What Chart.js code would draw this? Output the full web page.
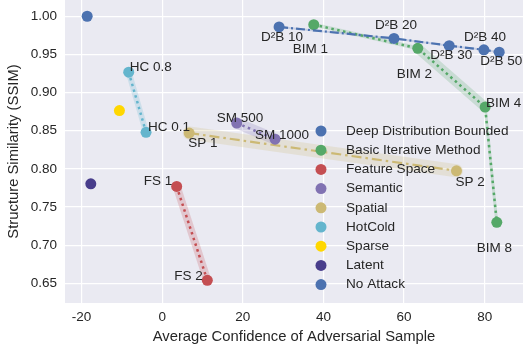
<!DOCTYPE html>
<html>
<head>
<meta charset="utf-8">
<script src="https://cdn.jsdelivr.net/npm/chart.js@4/dist/chart.umd.min.js"></script>
<style>
html,body{margin:0;padding:0;background:#fff;}
#wrap{width:523px;height:351px;position:relative;}
</style>
</head>
<body>
<div id="wrap"><canvas id="c"></canvas></div>
<script>
// ---- data ----
const seriesNames = ["Deep Distribution Bounded","Basic Iterative Method","Feature Space","Semantic","Spatial","HotCold","Sparse","Latent","No Attack"];
const d2bX = [29.0, 57.5, 71.2, 79.8, 83.6];
const d2bY = [0.986, 0.971, 0.9615, 0.956, 0.953];
const d2bLabels = ["D²B 10","D²B 20","D²B 30","D²B 40","D²B 50"];
const bimX = [37.6, 63.4, 80.1, 83.0];
const bimY = [0.989, 0.958, 0.881, 0.730];
const bimLabels = ["BIM 1","BIM 2","BIM 4","BIM 8"];
const fsX = [3.6, 11.2];
const fsY = [0.777, 0.654];
const fsLabels = ["FS 1","FS 2"];
const smX = [18.5, 28.0];
const smY = [0.860, 0.839];
const smLabels = ["SM 500","SM 1000"];
const spX = [6.7, 73.0];
const spY = [0.847, 0.7975];
const spLabels = ["SP 1","SP 2"];
const hcX = [-8.3, -4.0];
const hcY = [0.9267, 0.848];
const hcLabels = ["HC 0.8","HC 0.1"];
const sparseX = [-10.6];
const sparseY = [0.8765];
const latentX = [-17.7];
const latentY = [0.7805];
const noAttackX = [-18.6];
const noAttackY = [1.00];
const xTicks = [-20, 0, 20, 40, 60, 80];
const yTicks = [0.65, 0.70, 0.75, 0.80, 0.85, 0.90, 0.95, 1.00];

// ---- styles ----
const colors = ["#4c72b0","#55a868","#c44e52","#8172b2","#ccb974","#64b5cd","#ffd700","#483d8b","#4c72b0"];
const FONT = "'Liberation Sans', Arial, sans-serif";
const TXT = "#262626";

function pts(xs, ys){ return xs.map((x,i)=>({x:x, y:ys[i]})); }
function rgba(hex,a){const n=parseInt(hex.slice(1),16);return `rgba(${n>>16&255},${n>>8&255},${n&255},${a})`;}

const lineSeries = [
  {x:d2bX,y:d2bY,c:0,dash:[9,3,2,3],w:2.2,band:[2,2,2,2],labels:d2bLabels,
   off:[[-18,10],[-19,-13],[-19,9.5],[-20,-13],[-19,9.5]]},
  {x:bimX,y:bimY,c:1,dash:[2.5,3.5],w:2.5,band:[4,10,3],labels:bimLabels,
   off:[[-21,25],[-21,26],[1,-4],[-20,26]]},
  {x:fsX,y:fsY,c:2,dash:[2.5,3.5],w:2.5,band:[8],labels:fsLabels,off:[[-33,-5],[-33,-4]]},
  {x:smX,y:smY,c:3,dash:[2.5,3.5],w:2.5,band:[11],labels:smLabels,off:[[-20,-5],[-20,-4]]},
  {x:spX,y:spY,c:4,dash:[10,4,2.5,4],w:2.2,band:[13],labels:spLabels,off:[[-1,10],[-1,11]]},
  {x:hcX,y:hcY,c:5,dash:[2.5,3.5],w:2.5,band:[6],labels:hcLabels,off:[[1,-5],[2,-5]]}
];
const singleSeries = [
  {x:sparseX,y:sparseY,c:6},
  {x:latentX,y:latentY,c:7},
  {x:noAttackX,y:noAttackY,c:8}
];

const datasets = [];
lineSeries.forEach(s=>{
  const col = colors[s.c];
  datasets.push({
    type:'line', data:pts(s.x,s.y), order:10,
    borderColor:rgba(col,0.22), borderWidth:s.band[0], pointRadius:0, fill:false, tension:0,
    borderCapStyle:'round', borderJoinStyle:'round',
    segment:{borderWidth:ctx=>s.band[ctx.p0DataIndex] ?? s.band[0]}
  });
  datasets.push({
    type:'line', data:pts(s.x,s.y), order:1,
    borderColor:col, borderWidth:s.w, borderDash:s.dash, borderCapStyle:'butt',
    pointRadius:5.5, pointHoverRadius:5.5, pointBackgroundColor:col, pointBorderColor:col, pointBorderWidth:0,
    fill:false, tension:0, _labels:s.labels, _off:s.off
  });
});
singleSeries.forEach(s=>{
  const col = colors[s.c];
  datasets.push({
    type:'line', data:pts(s.x,s.y), order:1, showLine:false,
    pointRadius:5.5, pointBackgroundColor:col, pointBorderColor:col, pointBorderWidth:0
  });
});

const bgPlugin = {
  id:'bg',
  beforeDraw(chart){
    const {ctx, chartArea:a} = chart;
    ctx.save(); ctx.fillStyle='#eaeaf2';
    ctx.fillRect(a.left, a.top, a.right-a.left, a.bottom-a.top);
    ctx.restore();
  }
};
const labelPlugin = {
  id:'pointLabels',
  afterDatasetsDraw(chart){
    const ctx = chart.ctx;
    ctx.save();
    ctx.font = `13.5px ${FONT}`; ctx.fillStyle = TXT;
    ctx.textAlign='left'; ctx.textBaseline='middle';
    chart.data.datasets.forEach((ds,di)=>{
      if(!ds._labels) return;
      const meta = chart.getDatasetMeta(di);
      meta.data.forEach((el,i)=>{
        const o = ds._off[i];
        ctx.fillText(ds._labels[i], el.x + o[0], el.y + o[1]);
      });
    });
    ctx.restore();
  }
};
const legendPlugin = {
  id:'customLegend',
  afterDraw(chart){
    const ctx = chart.ctx;
    ctx.save();
    ctx.font = `13.6px ${FONT}`; ctx.textBaseline='middle'; ctx.textAlign='left';
    seriesNames.forEach((n,i)=>{
      const y = 131 + i*19.2;
      ctx.fillStyle = colors[i];
      ctx.beginPath(); ctx.arc(321, y, 5.5, 0, Math.PI*2); ctx.fill();
      ctx.fillStyle = TXT;
      ctx.fillText(n, 346, y);
    });
    ctx.restore();
  }
};

new Chart(document.getElementById('c'), {
  type:'line',
  data:{datasets},
  options:{
    responsive:true, maintainAspectRatio:false, animation:false,
    layout:{padding:0, autoPadding:false},
    plugins:{legend:{display:false}, tooltip:{enabled:false}},
    scales:{
      x:{
        type:'linear', min:-24.1, max:89.5,
        border:{display:false},
        grid:{color:'#ffffff', lineWidth:1.2, drawTicks:false},
        afterBuildTicks(s){ s.ticks = xTicks.map(v=>({value:v})); },
        ticks:{includeBounds:false, font:{family:FONT,size:13.5}, color:TXT, padding:6, maxRotation:0},
        title:{display:true, text:'Average Confidence of Adversarial Sample', font:{family:FONT,size:14.8}, color:TXT, padding:{top:0,bottom:5}},
        afterFit(s){ s.height = 48; s.paddingLeft=0; s.paddingRight=0; }
      },
      y:{
        type:'linear', min:0.6243, max:1.0213,
        border:{display:false},
        grid:{color:'#ffffff', lineWidth:1.2, drawTicks:false},
        afterBuildTicks(s){ s.ticks = yTicks.map(v=>({value:v})); },
        ticks:{includeBounds:false, font:{family:FONT,size:13.5}, color:TXT, padding:8, callback:v=>Number(v).toFixed(2)},
        title:{display:true, text:'Structure Similarity (SSIM)', font:{family:FONT,size:14.8}, color:TXT, padding:{top:5,bottom:2}},
        afterFit(s){ s.width = 65; s.paddingTop=0; s.paddingBottom=0; }
      }
    }
  },
  plugins:[bgPlugin, labelPlugin, legendPlugin]
});
</script>
</body>
</html>
